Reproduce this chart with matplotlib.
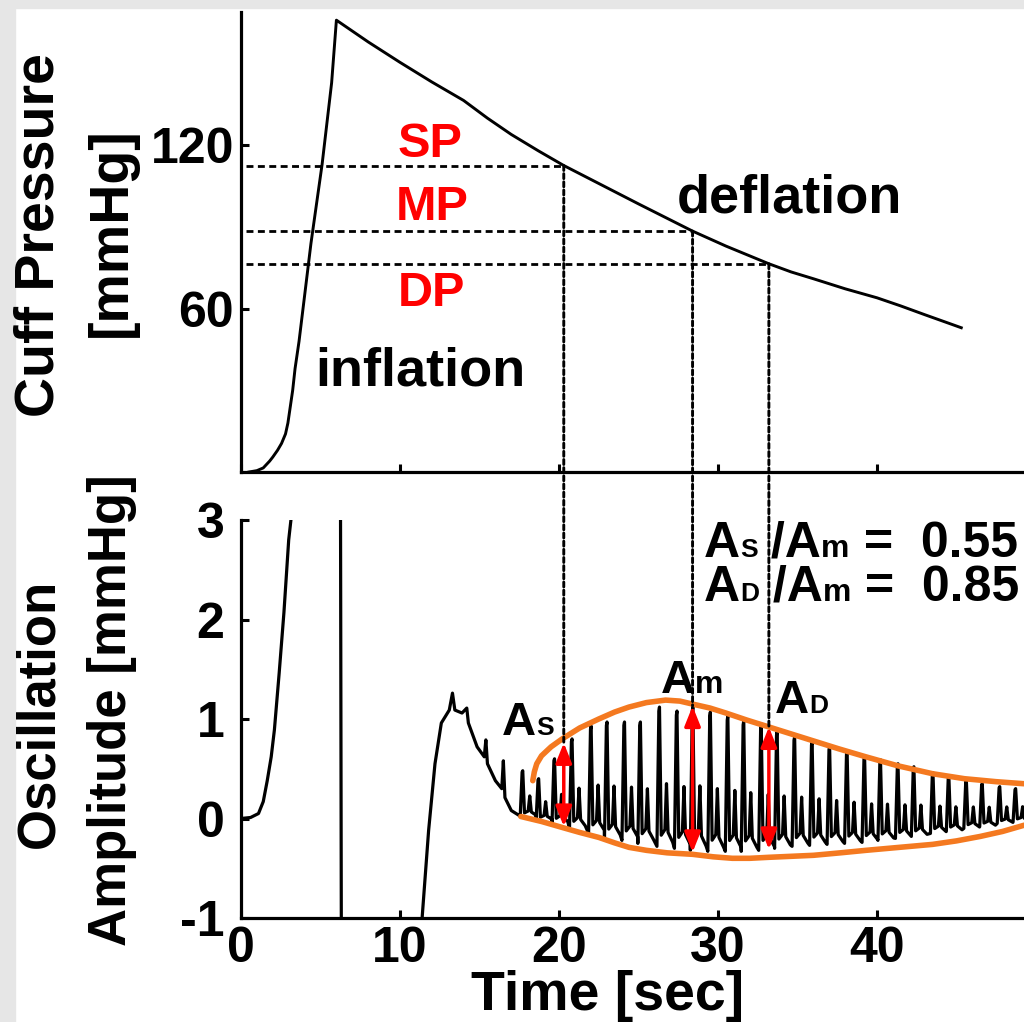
import matplotlib
matplotlib.use("Agg")
import matplotlib.pyplot as plt
from matplotlib.patches import ConnectionPatch, Rectangle
from matplotlib.offsetbox import TextArea, HPacker, AnnotationBbox

FONT = ["Liberation Sans", "DejaVu Sans"]
plt.rcParams["font.family"] = FONT
plt.rcParams["font.weight"] = "bold"
plt.rcParams["axes.unicode_minus"] = False

# ---------------- data ----------------
# cuff pressure trace [s, mmHg]
cuff_t = [0.5, 1.0, 1.4, 1.8, 2.0, 2.3, 2.55, 2.8, 2.95, 3.1, 3.25, 3.4, 3.65, 3.9, 4.4, 5.1, 5.7, 6.0,
          8.0, 10.0, 12.0, 14.0, 15.5, 17.0, 18.7, 20.3, 22.5, 25.0, 26.7, 28.4, 30.5, 33.2,
          34.6, 36.0, 38.0, 40.0, 41.5, 43.0, 44.2, 45.3]
cuff_p = [0, 0.5, 1.5, 4, 5.5, 8, 10.5, 14, 18, 24, 30, 38, 48, 60, 84, 113, 143, 166,
          158, 150.5, 143.3, 136.5, 130, 124, 118, 112.6, 106, 98.5, 93.5, 88.5, 83, 76.5,
          73.5, 71, 67.3, 64, 61, 57.8, 55.3, 53]

# characteristic points: systolic, mean, diastolic
char_names = ["SP", "MP", "DP"]
char_t = [20.3, 28.4, 33.2]
char_p = [112.6, 88.5, 76.5]

# oscillation trace, inflation / transient part [s, mmHg]
osc_t_early = [0, 0.6, 1.1, 1.4, 1.65, 1.9, 2.1, 2.4, 2.7, 3.0, 3.14, 3.3, 6.2, 6.28, 6.32,
               11.0, 11.4, 11.8, 12.2, 12.6, 13.1, 13.3, 13.45, 13.9, 14.2, 14.3, 14.85,
               15.3, 15.4, 15.5, 16.0, 16.4, 16.5, 16.6, 17.0, 17.5]
osc_v_early = [0, 0.01, 0.05, 0.17, 0.38, 0.62, 0.89, 1.46, 2.07, 2.8, 3.0, 3.8, 8, 1.6, -2,
               -3, -0.98, -0.12, 0.55, 0.96, 1.09, 1.26, 1.09, 1.06, 1.11, 0.96, 0.72,
               0.62, 0.79, 0.55, 0.38, 0.30, 0.58, 0.21, 0.08, 0.03]

# regular beats during deflation: peak time, peak value, trough value
beat_t = [17.7, 18.7, 19.7, 20.8, 22.0, 23.0, 24.1, 25.1, 26.3, 27.4, 28.4, 29.5, 30.6,
          31.6, 32.7, 33.7, 34.8, 35.9, 37.0, 38.1, 39.2, 40.2, 41.3, 42.3, 43.5, 44.5,
          45.6, 46.6, 47.7, 48.7, 49.8, 50.9, 52.0]
beat_peak = [0.48, 0.40, 0.60, 0.80, 0.93, 0.97, 0.97, 0.97, 1.12, 1.08, 1.12, 1.07, 1.03,
             0.98, 0.93, 0.87, 0.82, 0.77, 0.72, 0.67, 0.62, 0.59, 0.55, 0.52, 0.46, 0.42,
             0.38, 0.35, 0.32, 0.30, 0.28, 0.26, 0.25]
beat_trough = [0.02, -0.02, -0.05, -0.10, -0.15, -0.20, -0.22, -0.25, -0.28, -0.30, -0.32,
               -0.33, -0.33, -0.33, -0.32, -0.30, -0.28, -0.27, -0.26, -0.25, -0.24, -0.22,
               -0.20, -0.18, -0.15, -0.13, -0.10, -0.08, -0.05, -0.03, -0.01, 0.0, 0.0]

# envelopes
env_up_t = [18.35, 18.45, 18.6, 18.9, 19.5, 20.2, 21.3, 22.5, 23.5, 24.4, 25.5, 26.7, 27.6, 28.4,
            29.5, 30.5, 31.8, 33.2, 34.6, 36.0, 37.6, 39.3, 41.3, 43.5, 45.5, 47.5, 49.2, 51.0, 53.0]
env_up_v = [0.38, 0.47, 0.55, 0.63, 0.72, 0.80, 0.91, 1.00, 1.07, 1.12, 1.165, 1.19, 1.18, 1.15,
            1.11, 1.06, 0.99, 0.92, 0.85, 0.78, 0.70, 0.62, 0.53, 0.45, 0.40, 0.37, 0.35, 0.34, 0.33]
env_lo_t = [17.6, 18.9, 20.2, 21.3, 22.5, 23.5, 24.4, 25.5, 26.8, 28.4, 29.7, 30.9, 32.0, 33.2,
            34.6, 36.0, 37.7, 39.3, 41.4, 43.5, 45.0, 46.5, 47.9, 49.2, 51.0, 53.0]
env_lo_v = [0.02, -0.03, -0.09, -0.14, -0.19, -0.245, -0.29, -0.32, -0.345, -0.36, -0.385, -0.40,
            -0.40, -0.39, -0.38, -0.37, -0.345, -0.32, -0.29, -0.26, -0.225, -0.18, -0.13, -0.07,
            0.0, 0.05]

# amplitude arrows (top, bottom)
arrow_top = [0.76, 1.13, 0.92]
arrow_bot = [-0.08, -0.34, -0.31]

ratio_s = "0.55"
ratio_d = "0.85"

x_ticks = [0, 10, 20, 30, 40, 50]
x_ticklabels = ["0", "10", "20", "30", "40", ""]

# ---------------- build beat waveform from beat values ----------------
shape = [(-0.14, 0.0), (-0.02, 0.97), (0.02, 1.0), (0.13, 0.08), (0.36, 0.12), (0.46, 0.45),
         (0.56, 0.10), (0.85, 0.03)]
osc_t = list(osc_t_early)
osc_v = list(osc_v_early)
for tp, pk, tr in zip(beat_t, beat_peak, beat_trough):
    amp = pk - tr
    for dt, f in shape:
        osc_t.append(tp + dt)
        osc_v.append(tr + f * amp)

# ---------------- figure ----------------
fig = plt.figure(figsize=(10.24, 10.22), dpi=100)
fig.patches.append(Rectangle((0, 0), 15 / 1024, 1, transform=fig.transFigure, color="#e6e6e6", zorder=0))
fig.patches.append(Rectangle((0, 1 - 8 / 1022), 1, 8 / 1022, transform=fig.transFigure, color="#e6e6e6", zorder=0))

x0 = 241 / 1024
w = 55 * 15.9 / 1024
ax1 = fig.add_axes([x0, 1 - 472 / 1022, w, (472 - 12) / 1022])
ax2 = fig.add_axes([x0, 1 - 918 / 1022, w, (918 - 520) / 1022])

for ax in (ax1, ax2):
    ax.set_facecolor("none")
    for s in ("top", "right"):
        ax.spines[s].set_visible(False)
    for s in ("left", "bottom"):
        ax.spines[s].set_linewidth(2.3)
    ax.set_xlim(0, 55)
    ax.tick_params(direction="in", length=6, width=2.2, labelsize=36)
    ax.set_xticks(x_ticks)

ax1.set_ylim(0, 169)
ax1.set_yticks([60, 120])
ax1.tick_params(axis="x", labelbottom=False)
ax1.tick_params(axis="y", pad=5)
ax1.plot(cuff_t, cuff_p, color="black", lw=2.1, solid_joinstyle="round")

for n, t, p in zip(char_names, char_t, char_p):
    ax1.plot([0.3, t], [p, p], color="black", lw=2.0, ls=(0, (2.5, 1.6)))

ax1.text(11.9, 115.6, "SP", color="#ff0000", fontsize=35, ha="center", va="baseline")
ax1.text(12.0, 92.4, "MP", color="#ff0000", fontsize=35, ha="center", va="baseline")
ax1.text(12.0, 61.0, "DP", color="#ff0000", fontsize=35, ha="center", va="baseline")
ax1.text(11.3, 31.7, "inflation", fontsize=39, ha="center", va="baseline")
ax1.text(34.5, 95.3, "deflation", fontsize=39, ha="center", va="baseline")

ax2.set_ylim(-1, 3)
ax2.set_yticks([-1, 0, 1, 2, 3])
ax2.set_xticklabels(x_ticklabels)
ax2.tick_params(axis="y", pad=12)
ax2.tick_params(axis="x", pad=6)
ax2.plot(osc_t, osc_v, color="black", lw=2.3, solid_joinstyle="round")
ax2.plot(env_up_t, env_up_v, color="#f47920", lw=4.0, solid_capstyle="round", zorder=4)
ax2.plot(env_lo_t, env_lo_v, color="#f47920", lw=4.0, solid_capstyle="round", zorder=4)

for t, a, b in zip(char_t, arrow_top, arrow_bot):
    ax2.annotate("", xy=(t, a), xytext=(t, b),
                 arrowprops=dict(arrowstyle="<|-|>,head_length=0.6,head_width=0.24",
                                 color="#ff0000", lw=2.5, mutation_scale=20,
                                 shrinkA=0, shrinkB=0), zorder=6)

for t, p, a in zip(char_t, char_p, arrow_top):
    con = ConnectionPatch(xyA=(t, p), coordsA=ax1.transData, xyB=(t, a), coordsB=ax2.transData,
                          color="black", lw=2.1, ls=(0, (1.7, 1.1)), zorder=5)
    fig.add_artist(con)


def rich(ax, x, y, parts):
    kids = [TextArea(s, textprops=dict(fontsize=fs, fontweight="bold", color="black", family=FONT))
            for s, fs in parts]
    box = HPacker(children=kids, align="baseline", pad=0, sep=0)
    ab = AnnotationBbox(box, (x, y), xycoords="data", box_alignment=(0, 0), frameon=False,
                        pad=0, annotation_clip=False, zorder=7)
    ax.add_artist(ab)


BIG, SUB, MSUB = 34, 19, 23
RBIG = 36
rich(ax2, 16.4, 0.74, [("A", BIG), ("S", SUB)])
rich(ax2, 26.4, 1.16, [("A", BIG), ("m", MSUB)])
rich(ax2, 33.6, 0.96, [("A", BIG), ("D", SUB)])
rich(ax2, 29.1, 2.53, [("A", RBIG), ("S", SUB), (" /A", RBIG), ("m", MSUB), (" =  " + ratio_s, RBIG)])
rich(ax2, 29.1, 2.09, [("A", RBIG), ("D", SUB), (" /A", RBIG), ("m", MSUB), (" =  " + ratio_d, RBIG)])

fig.text(0.593, 1 - 1010 / 1022, "Time [sec]", fontsize=40, ha="center", va="baseline")
fig.text(40 / 1024, 1 - 235 / 1022, "Cuff Pressure", fontsize=40, rotation=90, ha="center", va="center")
fig.text(112 / 1024, 1 - 232 / 1022, "[mmHg]", fontsize=40, rotation=90, ha="center", va="center")
fig.text(39 / 1024, 1 - 713 / 1022, "Oscillation", fontsize=38, rotation=90, ha="center", va="center")
fig.text(112 / 1024, 1 - 710 / 1022, "Amplitude [mmHg]", fontsize=38, rotation=90, ha="center", va="center")

fig.savefig("out.png", dpi=100)
